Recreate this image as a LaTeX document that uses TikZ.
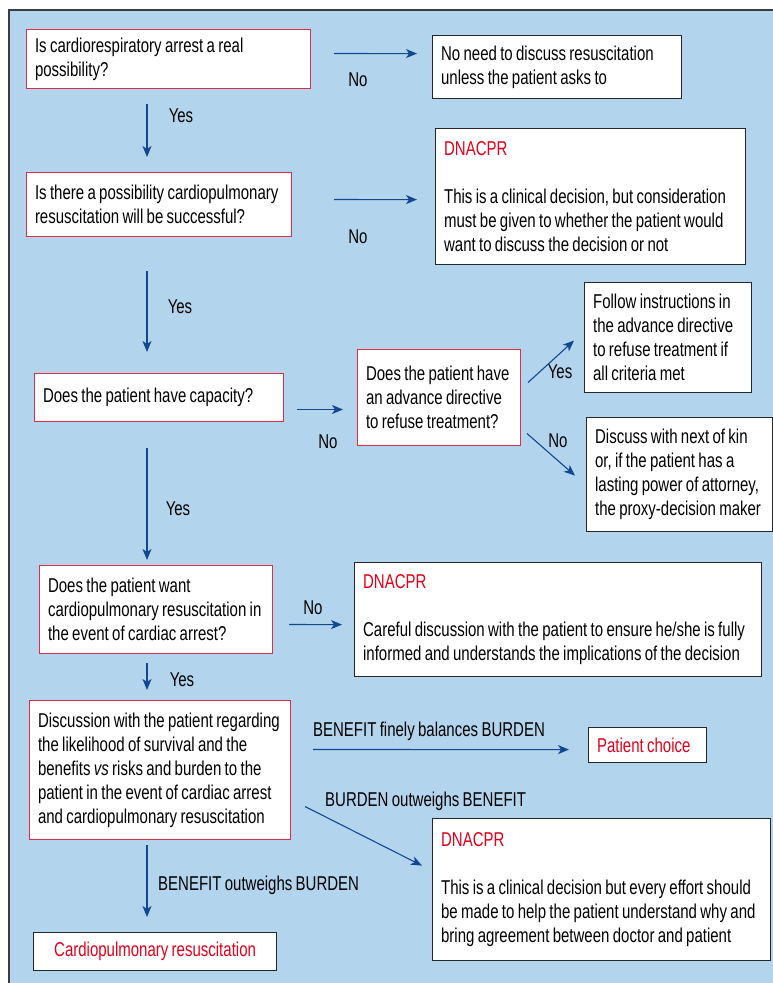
\documentclass[tikz,border=0pt]{standalone}
\usepackage{fontspec}
\setmainfont{Liberation Sans}[FakeStretch=0.75, WordSpace=0.8]
\definecolor{panelblue}{RGB}{179,212,237}
\definecolor{panelgrey}{RGB}{60,60,60}
\definecolor{boxred}{RGB}{222,46,70}
\definecolor{textred}{RGB}{226,0,26}
\definecolor{flowblue}{RGB}{18,72,144}
\usetikzlibrary{arrows.meta}
\tikzset{
  question/.style={draw=boxred, line width=1pt, fill=white, anchor=north west,
    align=flush left, inner xsep=8.5pt, inner ysep=2pt},
  answer/.style={question, draw=black!85, line width=1.2pt},
  flow/.style={draw=flowblue, line width=1.1pt, -{Stealth[length=11pt,width=9pt,inset=3pt]}},
  lbl/.style={inner sep=0pt},
}
\newcommand{\dnacpr}{{\color{textred}DNACPR}\\[\baselineskip]}

\begin{document}
\begin{tikzpicture}[x=1pt, y=-1pt, font=\fontsize{20}{24}\selectfont]
  \useasboundingbox (0,0) rectangle (773,983);
  \fill [panelblue] (9,10) rectangle (773,983);
  \draw [panelgrey, line width=1.5pt] (9,983) -- (9,10) -- (773,10);

  \coordinate (spine) at (147,0);

  % questions down the left
  \node [question, text width=267pt, minimum height=59pt] (q1) at (26,29)
    {Is cardiorespiratory arrest a real\\possibility?};
  \node [question, text width=248pt, minimum height=64pt] (q2) at (26,172)
    {Is there a possibility cardiopulmonary\\resuscitation will be successful?};
  \node [question, text width=232pt, minimum height=48pt] (q3) at (34,373)
    {Does the patient have capacity?};
  \node [question, text width=146pt, minimum height=96pt] (q4) at (357,349)
    {Does the patient have\\an advance directive\\to refuse treatment?};
  \node [question, text width=216pt, minimum height=88pt] (q5) at (39,565)
    {Does the patient want\\cardiopulmonary resuscitation in\\the event of cardiac arrest?};
  \node [question, text width=244pt, minimum height=139pt] (q6) at (29,700)
    {Discussion with the patient regarding\\the likelihood of survival and the\\benefits \textit{vs} risks and burden to the\\patient in the event of cardiac arrest\\and cardiopulmonary resuscitation};

  % outcomes
  \node [answer, text width=232pt, minimum height=63pt] (a1) at (432,35)
    {No need to discuss resuscitation\\unless the patient asks to};
  \node [answer, text width=293pt, minimum height=136pt] (a2) at (435,128)
    {\dnacpr This is a clinical decision, but consideration\\must be given to whether the patient would\\want to discuss the decision or not};
  \node [answer, text width=150pt, minimum height=110pt] (a4a) at (584,282)
    {Follow instructions in\\the advance directive\\to refuse treatment if\\all criteria met};
  \node [answer, text width=169pt, minimum height=114pt] (a4b) at (586,417)
    {Discuss with next of kin\\or, if the patient has a\\lasting power of attorney,\\the proxy-decision maker};
  \node [answer, text width=390pt, minimum height=114pt] (a5) at (354,562)
    {\dnacpr Careful discussion with the patient to ensure he/she is fully\\informed and understands the implications of the decision};
  \node [answer, text width=101pt, minimum height=35pt, text=textred] (pc) at (588,727)
    {Patient choice};
  \node [answer, text width=321pt, minimum height=142pt] (a6) at (432,818)
    {\dnacpr This is a clinical decision but every effort should\\be made to help the patient understand why and\\bring agreement between doctor and patient};
  \node [answer, text width=226pt, minimum height=38pt, align=flush center, text=textred] (cpr) at (33,932)
    {Cardiopulmonary resuscitation};

  % yes arrows
  \draw [flow, shorten <=15pt, shorten >=15pt] (spine |- q1.south) -- (spine |- q2.north);
  \draw [flow, shorten <=34pt, shorten >=21pt] (spine |- q2.south) -- (spine |- q3.north);
  \draw [flow, shorten <=26pt, shorten >=5pt] (spine |- q3.south) -- (spine |- q5.north);
  \draw [flow, shorten <=9pt, shorten >=10pt] (spine |- q5.south) -- (spine |- q6.north);
  \draw [flow, shorten <=5pt, shorten >=15pt] (spine |- q6.south) -- (spine |- cpr.north);

  % no arrows
  \draw [flow, shorten <=23pt, shorten >=15pt] ([yshift=5.5pt]q1.east) -- ([yshift=13.5pt]a1.west);
  \draw [flow, shorten <=42pt, shorten >=18pt] ([yshift=5pt]q2.east) -- ([yshift=-3pt]a2.west);
  \draw [flow, shorten <=13pt, shorten >=14pt] ([yshift=-12pt]q3.east) -- ([yshift=-12pt]q4.west);
  \draw [flow, shorten <=16pt, shorten >=12pt] ([yshift=-15pt]q5.east) -- ([yshift=-5pt]a5.west);
  \draw [flow] ([xshift=7pt,yshift=15pt]q4.east) -- ([xshift=-10pt,yshift=-3pt]a4a.west);
  \draw [flow] ([xshift=6pt,yshift=-36pt]q4.east) -- ([xshift=-11pt,yshift=-1pt]a4b.west);

  % weighing benefit and burden
  \draw [flow, shorten <=22pt, shorten >=19pt] ([yshift=20.5pt]q6.east) -- ([yshift=-4.5pt]pc.west);
  \draw [flow] ([xshift=14pt,yshift=-36.5pt]q6.east) -- ([xshift=-10pt,yshift=24pt]a6.west);

  % labels
  \node [lbl] (no1) at (358,80) {No};
  \node [lbl] (yes1) at (181,116) {Yes};
  \node [lbl] (no2) at (358,237) {No};
  \node [lbl] (yes2) at (180,307) {Yes};
  \node [lbl] (no3) at (328,442) {No};
  \node [lbl] (yes4) at (560,372) {Yes};
  \node [lbl] (no4) at (558,441) {No};
  \node [lbl] (yes3) at (178,509) {Yes};
  \node [lbl] (no5) at (313,608) {No};
  \node [lbl] (yes5) at (182,680) {Yes};
  \node [lbl] (fine) at (429,731) {BENEFIT finely balances BURDEN};
  \node [lbl, anchor=west] (burden) at (325,801) {BURDEN outweighs BENEFIT};
  \node [lbl, anchor=west] (benefit) at (158,885) {BENEFIT outweighs BURDEN};
\end{tikzpicture}
\end{document}
